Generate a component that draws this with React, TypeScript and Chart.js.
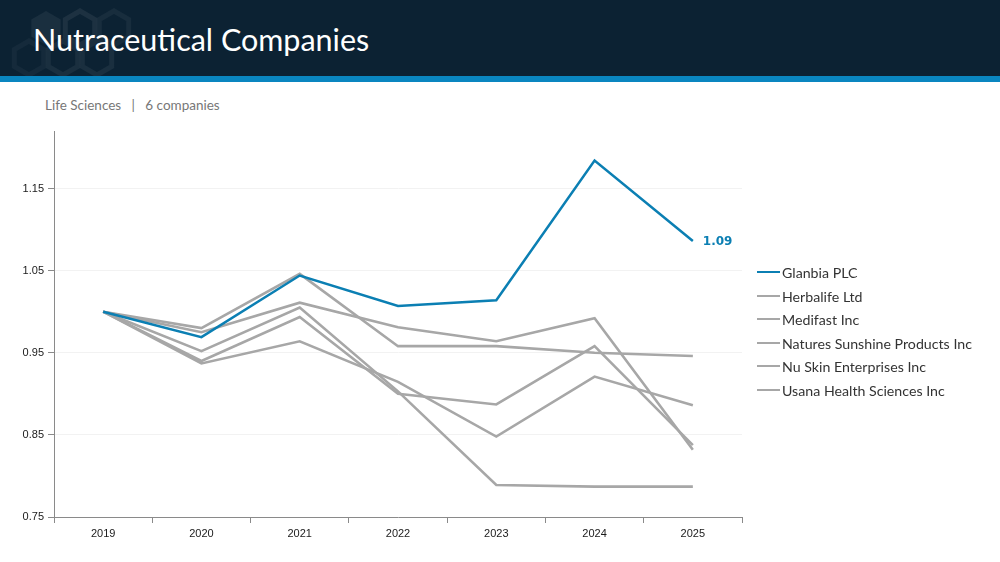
import React, { useEffect, useRef } from "react";
import { Chart, registerables } from "chart.js";

Chart.register(...registerables);

// ---- data ----
const years = ["2019", "2020", "2021", "2022", "2023", "2024", "2025"];
const seriesNames = [
  "Glanbia PLC",
  "Herbalife Ltd",
  "Medifast Inc",
  "Natures Sunshine Products Inc",
  "Nu Skin Enterprises Inc",
  "Usana Health Sciences Inc",
];
const glanbia = [1.0, 0.969, 1.044, 1.007, 1.014, 1.184, 1.086];
const herbalife = [1.0, 0.98, 1.046, 0.958, 0.958, 0.95, 0.946];
const medifast = [1.0, 0.975, 1.011, 0.981, 0.964, 0.992, 0.832];
const naturesSunshine = [1.0, 0.952, 1.005, 0.903, 0.789, 0.787, 0.787];
const nuSkin = [1.0, 0.94, 0.9935, 0.9, 0.887, 0.958, 0.8375];
const usana = [1.0, 0.937, 0.964, 0.9145, 0.848, 0.921, 0.886];
const yTickValues = [0.75, 0.85, 0.95, 1.05, 1.15];
const yMin = 0.75;
const yMax = 1.22;

const BLUE = "#0b7fb3";
const GRAY = "#a7a7a7";
const AXIS = "#8a8a8a";
const allSeries = [glanbia, herbalife, medifast, naturesSunshine, nuSkin, usana];
const seriesColors = [BLUE, GRAY, GRAY, GRAY, GRAY, GRAY];

const endLabel = {
  id: "endLabel",
  afterDatasetsDraw(chart: any) {
    const meta = chart.getDatasetMeta(0);
    const pt = meta.data[meta.data.length - 1];
    if (!pt) return;
    const ctx = chart.ctx;
    ctx.save();
    ctx.font = "bold 12px 'DejaVu Sans'";
    ctx.fillStyle = BLUE;
    ctx.textAlign = "left";
    ctx.textBaseline = "middle";
    ctx.fillText(glanbia[glanbia.length - 1].toFixed(2), pt.x + 10, pt.y + 1);
    ctx.restore();
  },
};

function Hexagons() {
  const hex = (cx: number, cy: number, r: number) => {
    const pts = [];
    for (let i = 0; i < 6; i++) {
      const a = (Math.PI / 3) * i + Math.PI / 6;
      pts.push(`${(cx + r * Math.cos(a)).toFixed(1)},${(cy + r * Math.sin(a)).toFixed(1)}`);
    }
    return pts.join(" ");
  };
  return (
    <svg width={140} height={76} style={{ position: "absolute", left: 0, top: 0 }}>
      <polygon points={hex(46, 28, 17)} fill="rgba(255,255,255,0.06)" />
      <polygon points={hex(80, 28, 17)} fill="none" stroke="rgba(255,255,255,0.07)" strokeWidth={5} />
      <polygon points={hex(114, 28, 17)} fill="none" stroke="rgba(255,255,255,0.05)" strokeWidth={5} />
      <polygon points={hex(63, 58, 17)} fill="none" stroke="rgba(255,255,255,0.06)" strokeWidth={5} />
      <polygon points={hex(97, 58, 17)} fill="none" stroke="rgba(255,255,255,0.06)" strokeWidth={5} />
      <polygon points={hex(29, 58, 17)} fill="none" stroke="rgba(255,255,255,0.04)" strokeWidth={5} />
    </svg>
  );
}

export default function App() {
  const canvasRef = useRef<HTMLCanvasElement | null>(null);

  useEffect(() => {
    const canvas = canvasRef.current;
    if (!canvas) return;
    const tickFont = { family: "'Liberation Sans', Arial, sans-serif", size: 11 };
    const chart = new Chart(canvas, {
      type: "line",
      data: {
        labels: years,
        datasets: allSeries.map((d, i) => ({
          label: seriesNames[i],
          data: d,
          borderColor: seriesColors[i],
          backgroundColor: seriesColors[i],
          borderWidth: i === 0 ? 2.5 : 2.6,
          pointRadius: 0,
          tension: 0,
          fill: false,
        })),
      },
      options: {
        responsive: false,
        animation: false,
        layout: { padding: { top: 11, right: 258, left: 0, bottom: 0 } },
        plugins: {
          legend: { display: false },
          tooltip: { enabled: false },
        },
        scales: {
          x: {
            type: "category",
            offset: true,
            grid: {
              display: true,
              drawOnChartArea: false,
              drawTicks: true,
              tickLength: 6,
              tickColor: AXIS,
              offset: true,
            },
            border: { color: AXIS, width: 1 },
            ticks: { color: "#1a1a1a", font: tickFont, padding: 4, maxRotation: 0 },
            afterFit: (s: any) => {
              s.height = 45;
            },
          },
          y: {
            type: "linear",
            min: yMin,
            max: yMax,
            afterBuildTicks: (s: any) => {
              s.ticks = yTickValues.map((v) => ({ value: v }));
            },
            grid: {
              color: "#f2f2f2",
              tickColor: AXIS,
              tickLength: 6,
            },
            border: { color: AXIS, width: 1 },
            ticks: {
              color: "#1a1a1a",
              font: tickFont,
              padding: 4,
              callback: (v: any) => Number(v).toFixed(2),
            },
            afterFit: (s: any) => {
              s.width = 54;
            },
          },
        },
      },
      plugins: [endLabel],
    });
    return () => chart.destroy();
  }, []);

  const legendTops = [272, 296, 319, 343, 366, 390];

  return (
    <div style={{ position: "absolute", left: 0, top: 0, width: 1000, height: 562, background: "#fff", overflow: "hidden" }}>
      <div style={{ position: "absolute", left: 0, top: 0, width: 1000, height: 76, background: "#0c2233" }} />
      <Hexagons />
      <div style={{ position: "absolute", left: 0, top: 76, width: 1000, height: 6, background: "#0a86c0" }} />
      <div
        style={{
          position: "absolute",
          left: 33,
          top: 24,
          fontFamily: "Lato, 'Open Sans', sans-serif",
          fontSize: 30.5,
          lineHeight: "30px",
          color: "#ffffff",
          whiteSpace: "nowrap",
        }}
      >
        Nutraceutical Companies
      </div>
      <div
        style={{
          position: "absolute",
          left: 45,
          top: 99,
          fontFamily: "Lato, 'Open Sans', sans-serif",
          fontSize: 13.5,
          lineHeight: "13px",
          color: "#777",
          whiteSpace: "nowrap",
        }}
      >
        Life Sciences&nbsp;&nbsp;&nbsp;|&nbsp;&nbsp;&nbsp;6 companies
      </div>
      <canvas
        ref={canvasRef}
        width={1000}
        height={442}
        style={{ position: "absolute", left: 0, top: 120, width: 1000, height: 442 }}
      />
      {seriesNames.map((name, i) => (
        <div
          key={name}
          style={{
            position: "absolute",
            left: 757,
            top: legendTops[i] - 9,
            height: 18,
            display: "flex",
            alignItems: "center",
            whiteSpace: "nowrap",
            fontFamily: "Lato, 'Open Sans', sans-serif",
            fontSize: 14.2,
            color: "#333",
          }}
        >
          <span style={{ display: "inline-block", width: 23, height: 2.5, background: seriesColors[i], marginRight: 2 }} />
          <span>{name}</span>
        </div>
      ))}
    </div>
  );
}
